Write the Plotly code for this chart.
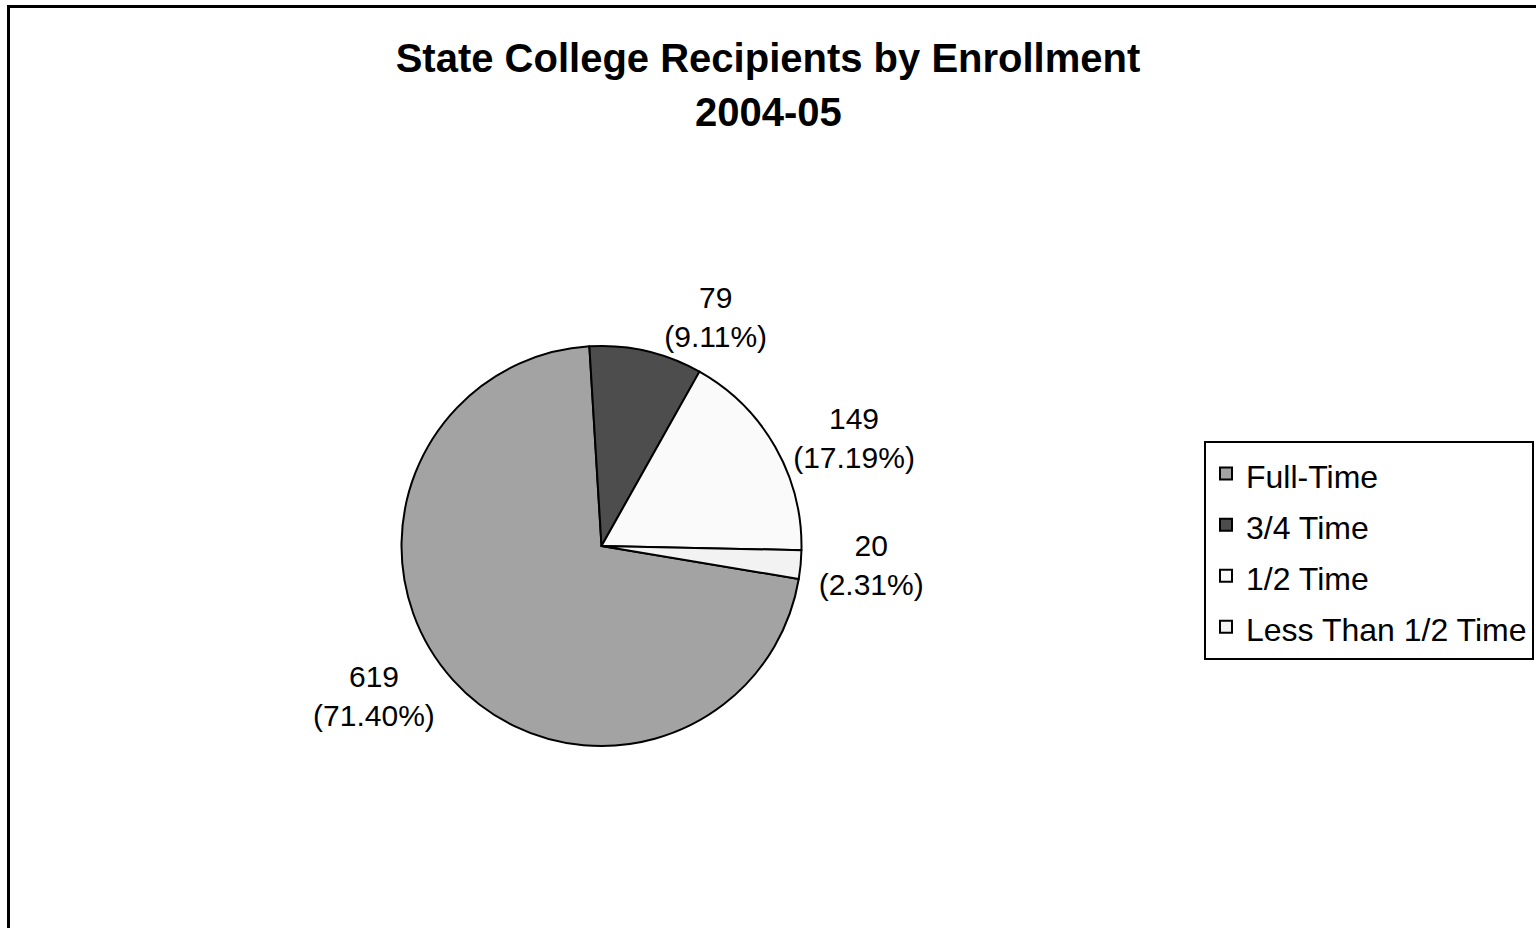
import plotly.graph_objects as go

W, H = 1536, 928

categories = ["Full-Time", "3/4 Time", "1/2 Time", "Less Than 1/2 Time"]
values = [619, 79, 149, 20]
colors = ["#A3A3A3", "#4D4D4D", "#FAFAFA", "#F2F2F2"]

title_line1 = "State College Recipients by Enrollment"
title_line2 = "2004-05"

FONT = "Liberation Sans, Arial, sans-serif"

def px_x(p):
    return p / W

def px_y(p):
    return 1 - p / H

fig = go.Figure()
fig.add_trace(go.Pie(
    labels=[f'<span style="font-size:32px">{c}</span>' for c in categories],
    values=values,
    sort=False,
    direction="clockwise",
    rotation=99.5,
    marker=dict(colors=colors, line=dict(color="black", width=2)),
    texttemplate="%{value}<br>(%{percent:.2%})",
    textposition="outside",
    textfont=dict(family=FONT, size=30, color="black"),
    domain=dict(x=[px_x(401), px_x(802)], y=[px_y(746), px_y(346)]),
    hoverinfo="label+value+percent",
))

fig.update_layout(
    width=W, height=H,
    margin=dict(l=0, r=0, t=0, b=0),
    paper_bgcolor="white",
    plot_bgcolor="white",
    font=dict(family=FONT, color="black"),
    title=dict(
        text=f"<b>{title_line1}</b>",
        x=0.5, xanchor="center",
        yref="container", y=px_y(58), yanchor="middle",
        font=dict(family=FONT, size=40, color="black"),
    ),
    annotations=[dict(
        text=f"<b>{title_line2}</b>",
        xref="paper", yref="paper", x=0.5, y=px_y(112),
        xanchor="center", yanchor="middle", showarrow=False,
        font=dict(family=FONT, size=40, color="black"),
    )],
    legend=dict(
        x=px_x(1204), xanchor="left",
        y=px_y(441), yanchor="top",
        bordercolor="black", borderwidth=2,
        bgcolor="white",
        font=dict(family=FONT, size=37, color="black"),
    ),
    showlegend=True,
    shapes=[dict(
        type="rect", xref="paper", yref="paper",
        x0=px_x(8.5), x1=px_x(1545), y0=px_y(940), y1=px_y(6.5),
        line=dict(color="black", width=3), fillcolor="rgba(0,0,0,0)",
    )],
)

fig.write_html(
    "out.html",
    config={"displayModeBar": False},
    post_script="document.body.style.margin='0px';",
)
